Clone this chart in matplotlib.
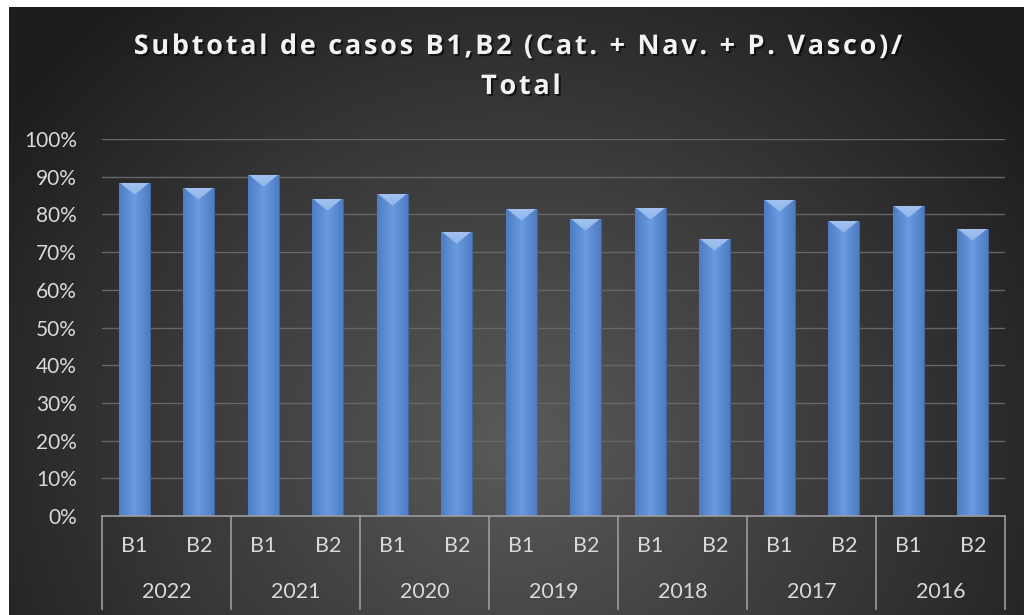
import numpy as np
import matplotlib
matplotlib.use("Agg")
import matplotlib.pyplot as plt
import matplotlib.patheffects as pe
from matplotlib.colors import LinearSegmentedColormap, to_rgb
from matplotlib.ticker import PercentFormatter

#### DATA ####
years = ["2022", "2021", "2020", "2019", "2018", "2017", "2016"]
types = ["B1", "B2"]
values = [88.3, 87.0, 90.5, 84.0, 85.3, 75.4, 81.5,
          78.8, 81.7, 73.5, 83.8, 78.3, 82.2, 76.1]  # % per (year, type)
title_l1 = "Subtotal de casos B1,B2 (Cat. + Nav. + P. Vasco)/"
title_l2 = "Total"

W, H = 1024, 615
TXT = "#d9d9d9"
FONT = ["Lato", "DejaVu Sans"]

##### Figure + gradient background #####
fig = plt.figure(figsize=(W / 100, H / 100), dpi=100)
fig.patch.set_facecolor("white")

bg = fig.add_axes([9 / W, 0, (W - 9) / W, (H - 7) / H], zorder=-5)
gx, gy = np.meshgrid(np.linspace(0, 1, 400), np.linspace(0, 1, 250))
r = np.sqrt(((gx - 0.5) / 0.62) ** 2 + ((gy - 0.72) / 0.95) ** 2)
bg_cmap = LinearSegmentedColormap.from_list("bg", ["#5a5a5a", "#1d1d1d"])
bg.imshow(np.clip(r, 0, 1), cmap=bg_cmap, vmin=0, vmax=1, aspect="auto",
          extent=[0, 1, 0, 1], origin="upper")
bg.set_axis_off()

##### Main axes #####
ax_l, ax_r = 102 / W, 1005 / W
ax_b, ax_t = (H - 516) / H, (H - 139) / H
ax = fig.add_axes([ax_l, ax_b, ax_r - ax_l, ax_t - ax_b])
ax.set_facecolor("none")

x = np.arange(len(values))
bars = ax.bar(x, values, width=0.48, color="#5d8ed6", edgecolor="#3f679e",
              linewidth=0.8, zorder=3)

# soft horizontal shading inside each bar
bar_cmap = LinearSegmentedColormap.from_list("bar", ["#4d7cc2", "#6a9ce2", "#4d7cc2"])
shade = np.linspace(0, 1, 64).reshape(1, -1)

# bevel highlight at the top: light triangle pointing down
u, d = np.meshgrid(np.linspace(0, 1, 60), np.linspace(0, 1, 24))
inside = d < 1 - np.abs(2 * u - 1)
bevel = np.zeros((24, 60, 4))
bevel[..., :3] = np.array(to_rgb("#a8c6f2")) * (1 - 0.35 * d[..., None]) \
    + np.array(to_rgb("#6e9ee0")) * 0.35 * d[..., None]
bevel[..., 3] = inside * 0.95

for b in bars:
    bx, by = b.get_x(), b.get_y()
    bw, bh = b.get_width(), b.get_height()
    im = ax.imshow(shade, cmap=bar_cmap, aspect="auto", zorder=3.5,
                   extent=[bx, bx + bw, by, by + bh])
    im.set_clip_path(b)
    cap = ax.imshow(bevel, aspect="auto", zorder=3.6, interpolation="bilinear",
                    extent=[bx, bx + bw, by + bh - 3.2, by + bh])
    cap.set_clip_path(b)

ax.set_xlim(-0.5, len(values) - 0.5)
ax.set_ylim(0, 100)
ax.set_yticks(np.arange(0, 101, 10))
ax.yaxis.set_major_formatter(PercentFormatter(decimals=0))
ax.tick_params(axis="y", length=0, pad=18, labelsize=15, labelcolor=TXT)
ax.tick_params(axis="x", length=0, labelbottom=False)
ax.grid(axis="y", color="#666666", linewidth=1, zorder=0)
for s in ["top", "right", "left"]:
    ax.spines[s].set_visible(False)
ax.spines["bottom"].set_color("#9c9c9c")
ax.spines["bottom"].set_linewidth(1.2)
ax.spines["bottom"].set_zorder(4)
for lab in ax.get_yticklabels():
    lab.set_fontfamily(FONT)

##### Two-level category axis #####
trans = ax.get_xaxis_transform()
px = 1 / (516 - 139)
for i in x:
    ax.text(i, -(546 - 516) * px, types[i % 2], transform=trans, ha="center",
            va="center", fontsize=15.5, color=TXT, family=FONT)
for g, yr in enumerate(years):
    ax.text(2 * g + 0.5, -(592 - 516) * px, yr, transform=trans, ha="center",
            va="center", fontsize=15.5, color=TXT, family=FONT)
for g in range(len(years) + 1):
    ax.plot([2 * g - 0.5] * 2, [0, -(609 - 516) * px], transform=trans,
            color="#9c9c9c", linewidth=1.2, clip_on=False)

##### Title (letter-spaced with hair spaces) #####
shadow = [pe.withSimplePatchShadow(offset=(1.5, -1.5), shadow_rgbFace="black", alpha=0.6)]
title_font = ["Open Sans", "DejaVu Sans"]
spaced = lambda s: "\u200a".join(s)
fig.text(519 / W, 1 - 47 / H, spaced(title_l1), ha="center", va="center",
         fontsize=19.5, fontweight="bold", color="#f2f2f2", family=title_font,
         path_effects=shadow)
fig.text(521 / W, 1 - 87 / H, spaced(title_l2), ha="center", va="center",
         fontsize=19.5, fontweight="bold", color="#f2f2f2", family=title_font,
         path_effects=shadow)

fig.savefig("out.png", dpi=100, facecolor=fig.get_facecolor())
